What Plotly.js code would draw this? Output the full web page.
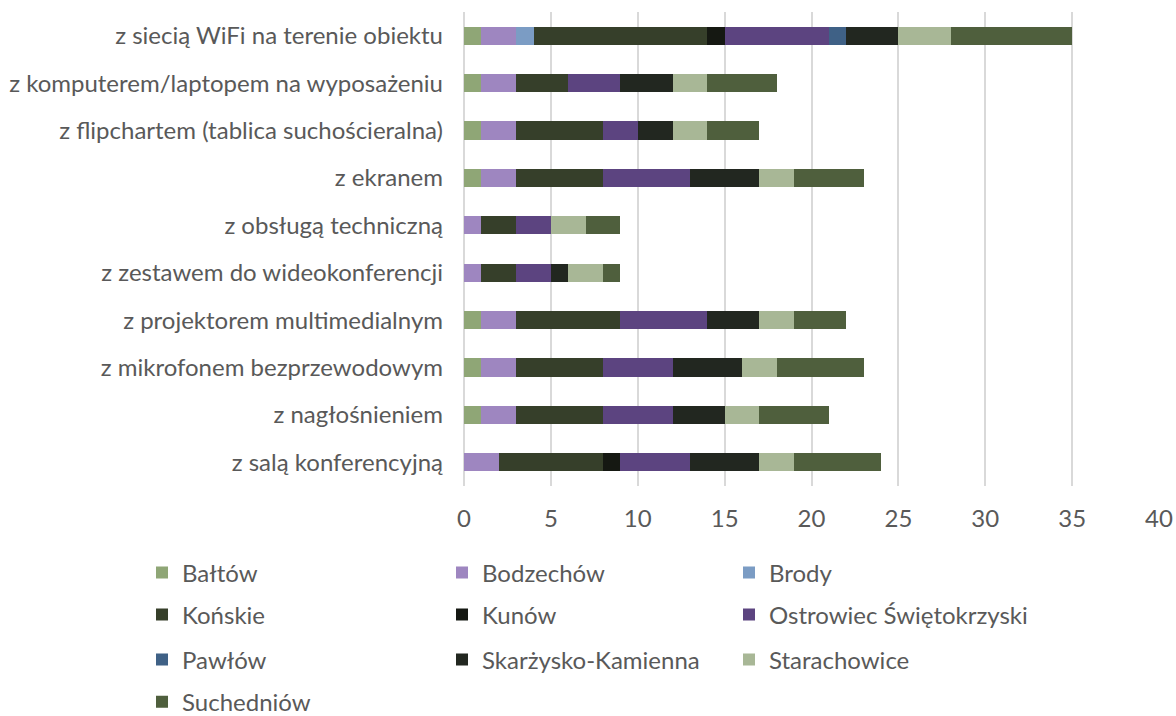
<!DOCTYPE html>
<html><head><meta charset="utf-8">
<script src="https://cdn.plot.ly/plotly-3.0.1.min.js"></script>
<style>html,body{margin:0;padding:0;background:#fff}#chart{width:1176px;height:716px}</style>
</head><body><div id="chart"></div>
<script>
// categories listed bottom to top
const categories = [
  "z salą konferencyjną",
  "z nagłośnieniem",
  "z mikrofonem bezprzewodowym",
  "z projektorem multimedialnym",
  "z zestawem do wideokonferencji",
  "z obsługą techniczną",
  "z ekranem",
  "z flipchartem (tablica suchościeralna)",
  "z komputerem/laptopem na wyposażeniu",
  "z siecią WiFi na terenie obiektu"
];
const seriesNames = ["Bałtów","Bodzechów","Brody","Końskie","Kunów","Ostrowiec Świętokrzyski","Pawłów","Skarżysko-Kamienna","Starachowice","Suchedniów"];
const baltow        = [0,1,1,1,0,0,1,1,1,1];
const bodzechow     = [2,2,2,2,1,1,2,2,2,2];
const brody         = [0,0,0,0,0,0,0,0,0,1];
const konskie       = [6,5,5,6,2,2,5,5,3,10];
const kunow         = [1,0,0,0,0,0,0,0,0,1];
const ostrowiec     = [4,4,4,5,2,2,5,2,3,6];
const pawlow        = [0,0,0,0,0,0,0,0,0,1];
const skarzysko     = [4,3,4,3,1,0,4,2,3,3];
const starachowice  = [2,2,2,2,2,2,2,2,2,3];
const suchedniow    = [5,4,5,3,1,2,4,3,4,7];
const seriesValues = [baltow,bodzechow,brody,konskie,kunow,ostrowiec,pawlow,skarzysko,starachowice,suchedniow];
const colors = ["#8FA676","#9E86C0","#7B9CC4","#363F2A","#151812","#5C4480","#3F6186","#222720","#A8B796","#4F5F3D"];
const legendIds = ["legend","legend","legend5","legend2","legend2","legend6","legend3","legend3","legend7","legend4"];

const traces = seriesNames.map((n,i)=>({
  type:'bar', orientation:'h', name:n, y:categories, x:seriesValues[i],
  marker:{color:colors[i], line:{width:0}}, legend:legendIds[i]
}));

const font = {family:'Lato, "Open Sans", sans-serif', size:24, color:'#595959'};
function lg(x, y, ew){const o = {orientation:'h', x:x, xanchor:'left', y:y, yanchor:'middle',
  font:font, itemwidth:30, bgcolor:'rgba(0,0,0,0)', traceorder:'normal'};
  if (ew) {o.entrywidth = ew; o.entrywidthmode = 'pixels';}
  return o;}
const c1 = -0.4633, c3 = 0.3813;
const r1 = -0.1835, r2 = -0.272, r3 = -0.367, r4 = -0.456;

const layout = {
  width:1176, height:716,
  margin:{l:464, r:17, t:12, b:230, autoexpand:false},
  barmode:'stack', bargap:0.62,
  paper_bgcolor:'#fff', plot_bgcolor:'#fff',
  font:font,
  xaxis:{range:[0,40], dtick:5, tick0:0, showgrid:true, gridcolor:'#D9D9D9', gridwidth:2,
    zeroline:true, zerolinecolor:'#D9D9D9', zerolinewidth:2, showline:false, ticks:'',
    ticklabelstandoff:16, tickfont:font, fixedrange:true, automargin:false},
  yaxis:{type:'category', categoryorder:'array', categoryarray:categories, showgrid:false,
    showline:false, ticks:'', ticklabelstandoff:20, tickfont:font, automargin:false},
  showlegend:true,
  legend:lg(c1, r1, 255), legend2:lg(c1, r2, 255), legend3:lg(c1, r3, 255), legend4:lg(c1, r4),
  legend5:lg(c3, r1), legend6:lg(c3, r2), legend7:lg(c3, r3)
};
Plotly.newPlot('chart', traces, layout, {displayModeBar:false, staticPlot:true});
</script></body></html>
